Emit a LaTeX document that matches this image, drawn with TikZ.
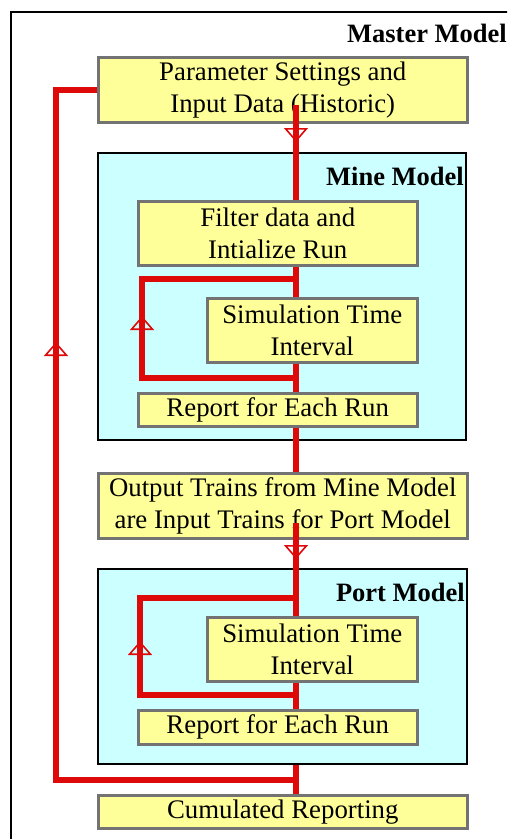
\documentclass[tikz,border=0pt]{standalone}
\usepackage{fontspec}
\setmainfont{Liberation Serif}
\usetikzlibrary{positioning,arrows.meta,decorations.markings}
\definecolor{boxyellow}{RGB}{255,255,153}
\definecolor{boxcyan}{RGB}{204,255,255}
\definecolor{flowred}{RGB}{222,10,10}
\definecolor{boxgray}{RGB}{115,115,115}
\tikzset{step box/.style={rectangle,fill=boxyellow,draw=boxgray,line width=2.5pt,inner sep=0pt,align=center,anchor=north west,font=\fontsize{26.8}{32}\selectfont},
  model box/.style={rectangle,fill=boxcyan,draw=black,line width=2pt,inner sep=0pt,anchor=north west},
  model label/.style={inner sep=0pt,font=\bfseries\fontsize{26.5}{31}\selectfont},
  flow/.style={draw=flowred,line width=6.5pt},
  arrow at/.style={postaction={decorate},decoration={markings,mark=at position #1 with {\arrow[flowred]{Triangle[open,width=24pt,length=14pt,line width=1.6pt]}}}},}

\begin{document}
\begin{tikzpicture}[x=1pt,y=-1pt]
        \useasboundingbox (0,0) rectangle (507,839);
        \clip (0,0) rectangle (507,839);

        % master model
        \node[model box,fill=white,minimum width=530pt,minimum height=850pt] (master) at (10,11) {};
        \node[model label,anchor=north east] (mastertitle) at (507,24) {Master Model};
        \node[step box,minimum width=369pt,minimum height=65pt] (param) at (97,56) {Parameter Settings and\\Input Data (Historic)};

        % mine model
        \node[model box,minimum width=368pt,minimum height=287pt] (mine) at (97,152) {};
        \node[model label,below left=15pt and 3pt of mine.north east] (minetitle) {Mine Model};
        \node[step box,minimum width=279pt,minimum height=64pt] (filter) at (137,200) {Filter data and\\Intialize Run};
        \node[step box,minimum width=210pt,minimum height=64pt] (simA) at (206,297) {Simulation Time\\Interval};
        \node[step box,minimum width=279pt,minimum height=33pt] (reportA) at (137,392) {Report for Each Run};

        \node[step box,minimum width=369pt,minimum height=65pt] (trains) at (97,472) {Output Trains from Mine Model\\are Input Trains for Port Model};

        % port model
        \node[model box,minimum width=369pt,minimum height=195pt] (port) at (97,568) {};
        \node[model label,below left=15pt and 3pt of port.north east] (porttitle) {Port Model};
        \node[step box,minimum width=210pt,minimum height=64pt] (simB) at (206,616) {Simulation Time\\Interval};
        \node[step box,minimum width=279pt,minimum height=34pt] (reportB) at (137,709) {Report for Each Run};

        \node[step box,minimum width=369pt,minimum height=33pt] (cumul) at (97,794) {Cumulated Reporting};

        % junctions
        \coordinate (sp) at (296,0);
        \coordinate (inA) at (296,105);
        \coordinate (inB) at (296,523);
        \coordinate (jA1) at (296,279);
        \coordinate (jA2) at (296,378);
        \coordinate (cA) at (142,0);
        \coordinate (jB1) at (296,598);
        \coordinate (jB2) at (296,695);
        \coordinate (cB) at (140,0);
        \coordinate (jC) at (296,780);
        \coordinate (cC) at (56,0);

        % flow
        \draw[flow,arrow at=37pt] (inA) -- (filter.north -| sp);
        \draw[flow] (filter.south -| sp) -- (simA.north -| sp);
        \draw[flow] (simA.south -| sp) -- (reportA.north -| sp);
        \draw[flow] (reportA.south -| sp) -- (trains.north -| sp);
        \draw[flow,arrow at=36pt] (inB) -- (simB.north -| sp);
        \draw[flow] (simB.south -| sp) -- (reportB.north -| sp);
        \draw[flow] (port.south -| sp) -- (cumul.north -| sp);

        % loops
        \draw[flow,arrow at=216pt] (jA2) -- (jA2 -| cA) -- (jA1 -| cA) -- (jA1);
        \draw[flow,arrow at=210pt] (jB2) -- (jB2 -| cB) -- (jB1 -| cB) -- (jB1);
        \draw[flow,arrow at=678pt] (jC) -- (jC -| cC) -- (param.west -| cC) -- (param.west);
\end{tikzpicture}
\end{document}
